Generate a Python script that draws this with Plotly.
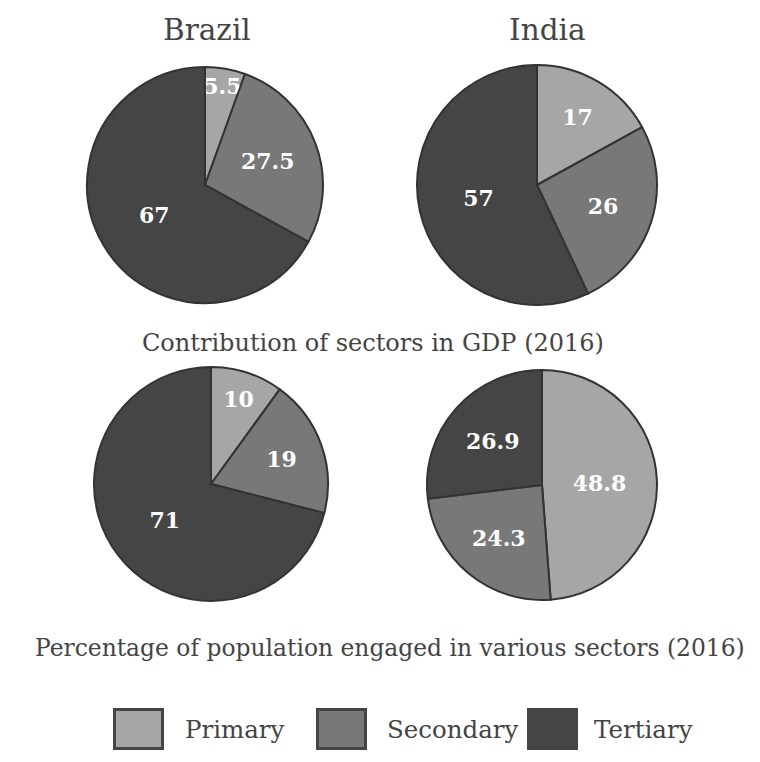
import plotly.graph_objects as go

sectors = ["Primary", "Secondary", "Tertiary"]
colors = ["#a6a6a6", "#787878", "#454545"]

brazil_gdp = [5.5, 27.5, 67]
india_gdp = [17, 26, 57]
brazil_pop = [10, 19, 71]
india_pop = [48.8, 24.3, 26.9]

countries = ["Brazil", "India"]
title_gdp = "Contribution of sectors in GDP (2016)"
title_pop = "Percentage of population engaged in various sectors (2016)"

OFF = 8  # page body margin
W, H = 760 - OFF, 762 - OFF
FONT = "DejaVu Serif"
TXT = "#444444"


def px(x):
    return (x - OFF) / W


def py(y):
    return 1 - (y - OFF) / H


def dom(cx, cy, r):
    return dict(x=[px(cx - r), px(cx + r)], y=[py(cy + r), py(cy - r)])


fig = go.Figure()
pies = [
    (brazil_gdp, dom(205, 185, 118)),
    (india_gdp, dom(537, 185, 120)),
    (brazil_pop, dom(211, 484, 117)),
    (india_pop, dom(542, 485, 115)),
]
for vals, d in pies:
    fig.add_trace(go.Pie(
        labels=sectors, values=vals, sort=False, direction="clockwise", rotation=0,
        marker=dict(colors=colors, line=dict(color="#333333", width=2)),
        texttemplate="%{value}", textposition="inside", insidetextorientation="horizontal",
        textfont=dict(family=FONT, size=22, color="white", weight="bold"),
        domain=d, showlegend=False, hoverinfo="label+value",
    ))

annots = []
for name, cx in zip(countries, [207, 547]):
    annots.append(dict(text=name, x=px(cx), y=py(30), xref="paper", yref="paper",
                       xanchor="center", yanchor="middle", showarrow=False,
                       font=dict(family=FONT, size=29.5, color=TXT)))
annots.append(dict(text=title_gdp, x=px(373), y=py(343), xref="paper", yref="paper",
                   xanchor="center", yanchor="middle", showarrow=False,
                   font=dict(family=FONT, size=24, color=TXT)))
annots.append(dict(text=title_pop, x=px(390), y=py(648), xref="paper", yref="paper",
                   xanchor="center", yanchor="middle", showarrow=False,
                   font=dict(family=FONT, size=23.4, color=TXT)))

shapes = []
box_x = [113, 316, 527]
text_x = [183, 385, 592]
for lab, col, bx, tx in zip(sectors, colors, box_x, text_x):
    shapes.append(dict(type="rect", xref="paper", yref="paper",
                       x0=px(bx + 1.5), x1=px(bx + 49.5), y0=py(748.5), y1=py(709.5),
                       fillcolor=col, line=dict(color="#454545", width=3)))
    annots.append(dict(text=lab, x=px(tx), y=py(729), xref="paper", yref="paper",
                       xanchor="left", yanchor="middle", showarrow=False,
                       font=dict(family=FONT, size=24.5, color=TXT)))

fig.update_layout(
    width=W, height=H, margin=dict(l=0, r=0, t=0, b=0),
    paper_bgcolor="white", plot_bgcolor="white",
    annotations=annots, shapes=shapes,
    uniformtext=dict(minsize=22, mode="show"),
)
fig.write_html("out.html")
